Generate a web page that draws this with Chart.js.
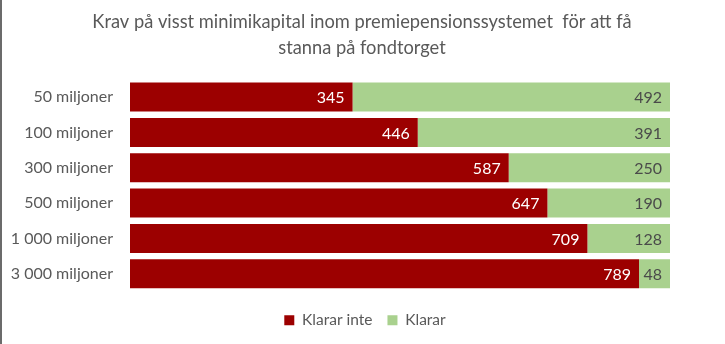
<!DOCTYPE html>
<html>
<head>
<meta charset="utf-8">
<script src="https://cdn.jsdelivr.net/npm/chart.js@4"></script>
<style>
  body { margin: 0; background: #fff; }
  #wrap { position: relative; width: 725px; height: 344px; }
  #edge { position: absolute; left: 0; top: 0; width: 2px; height: 344px; background: #6b6b6b; }
</style>
</head>
<body>
<div id="wrap">
  <canvas id="chart" width="725" height="344"></canvas>
  <div id="edge"></div>
</div>
<script>
const categories = ["50 miljoner", "100 miljoner", "300 miljoner", "500 miljoner", "1 000 miljoner", "3 000 miljoner"];
const klararInte = [345, 446, 587, 647, 709, 789];
const klarar = [492, 391, 250, 190, 128, 48];
const titleLines = ["Krav på visst minimikapital inom premiepensionssystemet  för att få", "stanna på fondtorget"];

const fontFamily = "Lato, 'Open Sans', sans-serif";
const textGrey = "#595959";

// total per row, used as the axis max so bars fill the width
const total = klararInte[0] + klarar[0];

// draws value labels at the end of each segment
const endLabels = {
    id: "endLabels",
    afterDatasetsDraw(chart) {
        const ctx = chart.ctx;
        ctx.save();
        ctx.font = "16px " + fontFamily;
        ctx.textAlign = "right";
        ctx.textBaseline = "middle";
        chart.data.datasets.forEach((ds, i) => {
            const meta = chart.getDatasetMeta(i);
            meta.data.forEach((bar, j) => {
                ctx.fillStyle = i === 0 ? "#ffffff" : "#4a4a4a";
                ctx.fillText(ds.data[j], bar.x - 8, bar.y + 1);
            });
        });
        ctx.restore();
    }
};

// nudge title and legend to where the original has them
const boxShift = {
    id: "boxShift",
    afterLayout(chart) {
        const lg = chart.legend;
        lg.left += 30; lg.right += 30;
        lg.top += 6; lg.bottom += 6;
        const tb = chart.titleBlock;
        tb.left += 27; tb.right += 27;
    }
};

new Chart(document.getElementById("chart"), {
    type: "bar",
    data: {
        labels: categories,
        datasets: [
            {
                label: "Klarar inte",
                data: klararInte,
                backgroundColor: "#9c0000",
                categoryPercentage: 0.82,
                barPercentage: 1,
            },
            {
                label: "Klarar",
                data: klarar,
                backgroundColor: "#a9d18e",
                categoryPercentage: 0.82,
                barPercentage: 1,
            },
        ],
    },
    options: {
        indexAxis: "y",
        responsive: false,
        animation: false,
        layout: { padding: { left: 0, right: 55, top: 0, bottom: 12 } },
        plugins: {
            title: {
                display: true,
                text: titleLines,
                color: textGrey,
                font: { family: fontFamily, size: 18.3, weight: "normal", lineHeight: 1.43 },
                padding: { top: 9, bottom: 18 },
            },
            legend: {
                display: true,
                position: "bottom",
                labels: {
                    color: textGrey,
                    font: { family: fontFamily, size: 15.5 },
                    boxWidth: 10,
                    boxHeight: 10,
                    padding: 15,
                },
            },
            tooltip: { enabled: false },
        },
        scales: {
            x: {
                stacked: true,
                min: 0,
                max: total,
                display: false,
            },
            y: {
                stacked: true,
                grid: { display: false, drawTicks: false },
                border: { display: false },
                ticks: {
                    color: textGrey,
                    font: { family: fontFamily, size: 16 },
                    padding: 17,
                },
                afterFit(axis) {
                    axis.width = 130;
                },
            },
        },
    },
    plugins: [endLabels, boxShift],
});
</script>
</body>
</html>
